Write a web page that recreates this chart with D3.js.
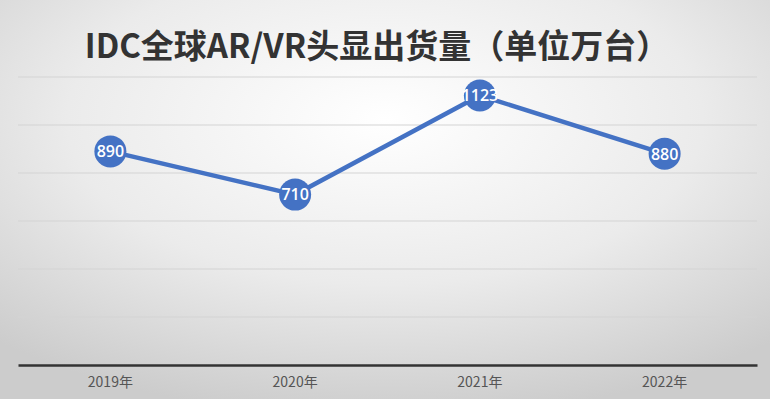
<!DOCTYPE html>
<html>
<head>
<meta charset="utf-8">
<script src="https://cdn.jsdelivr.net/npm/d3@7"></script>
<style>
  body { margin: 0; overflow: hidden; }
  svg { display: block; }
</style>
</head>
<body>
<div id="chart"></div>
<script>
/* DATA */
const years = ["2019年", "2020年", "2021年", "2022年"];
const shipments = [890, 710, 1123, 880];
const yTicks = [0, 200, 400, 600, 800, 1000, 1200];

/* CONSTANTS */
const width = 770,
  height = 399,
  margin = { top: 77, bottom: 34, left: 18, right: 13 },
  radius = 16,
  blue = "#4472c4";

const svg = d3.select("#chart")
  .append("svg")
  .attr("width", width)
  .attr("height", height);

// background: light centre fading to grey at the edges
const defs = svg.append("defs");
const grad = defs.append("radialGradient")
  .attr("id", "bg")
  .attr("cx", "50%").attr("cy", "30%")
  .attr("r", "75%");
grad.append("stop").attr("offset", "0%").attr("stop-color", "#ffffff");
grad.append("stop").attr("offset", "55%").attr("stop-color", "#ebebeb");
grad.append("stop").attr("offset", "100%").attr("stop-color", "#cccccc");

svg.append("rect")
  .attr("width", width)
  .attr("height", height)
  .attr("fill", "url(#bg)");

/* SCALES */
const xScale = d3.scaleBand()
  .domain(years)
  .range([margin.left, width - margin.right]);

const yScale = d3.scaleLinear()
  .domain([0, 1200])
  .range([height - margin.bottom, margin.top]);

// gridlines
svg.append("g")
  .selectAll("line")
  .data(yTicks.slice(1))
  .join("line")
  .attr("x1", margin.left)
  .attr("x2", width - margin.right)
  .attr("y1", d => yScale(d))
  .attr("y2", d => yScale(d))
  .attr("stroke", "#d4d4d4")
  .attr("stroke-width", 1.2);

// x axis
const xAxis = d3.axisBottom(xScale).tickSize(0).tickPadding(12);
svg.append("g")
  .attr("class", "x-axis")
  .attr("transform", `translate(0,${yScale(0)})`)
  .call(xAxis)
  .call(g => g.select(".domain")
    .attr("stroke", "#333")
    .attr("stroke-width", 2.5))
  .call(g => g.selectAll("text")
    .attr("fill", "#555")
    .attr("font-size", 14)
    .attr("font-family", "'Liberation Sans Narrow', 'Noto Sans CJK SC', sans-serif"));

const cx = d => xScale(d) + xScale.bandwidth() / 2;
const points = years.map((y, i) => ({ year: y, value: shipments[i] }));

// line
const lineFunc = d3.line()
  .x(d => cx(d.year))
  .y(d => yScale(d.value));

svg.append("path")
  .datum(points)
  .attr("fill", "none")
  .attr("stroke", blue)
  .attr("stroke-width", 4.5)
  .attr("d", lineFunc);

// markers
svg.append("g")
  .selectAll("circle")
  .data(points)
  .join("circle")
  .attr("cx", d => cx(d.year))
  .attr("cy", d => yScale(d.value))
  .attr("r", radius)
  .attr("fill", blue);

// labels
svg.append("g")
  .selectAll("text")
  .data(points)
  .join("text")
  .attr("x", d => cx(d.year))
  .attr("y", d => yScale(d.value))
  .attr("dy", "0.36em")
  .attr("text-anchor", "middle")
  .attr("fill", "#fff")
  .attr("font-size", 16)
  .attr("font-weight", 600)
  .attr("font-family", "'Open Sans', sans-serif")
  .text(d => d.value);

// title
svg.append("text")
  .attr("x", 377)
  .attr("y", 58)
  .attr("text-anchor", "middle")
  .attr("fill", "#333")
  .attr("font-size", 33)
  .attr("font-weight", "bold")
  .attr("font-family", "'Noto Sans CJK SC', sans-serif")
  .text("IDC全球AR/VR头显出货量（单位万台）");
</script>
</body>
</html>
